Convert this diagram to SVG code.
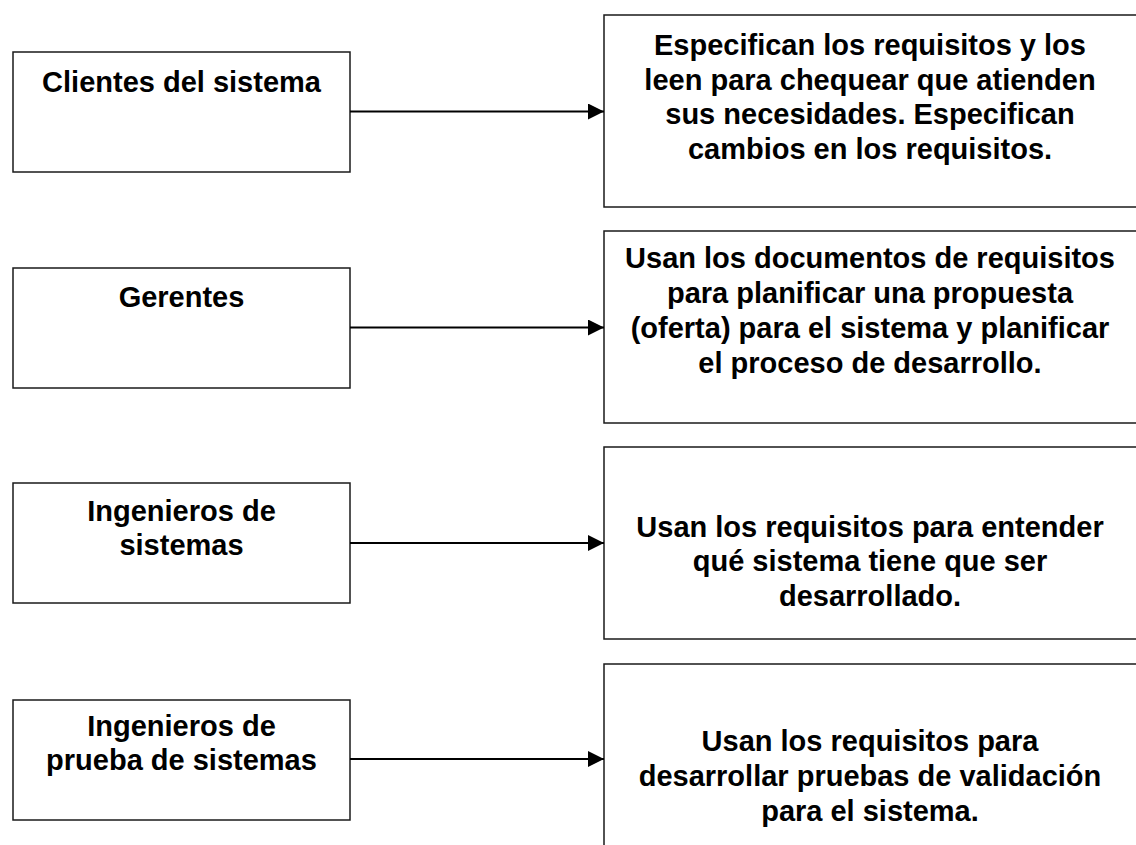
<svg xmlns="http://www.w3.org/2000/svg" width="1136" height="845" viewBox="0 0 1136 845">
<defs>
<marker id="ah" markerWidth="16" markerHeight="16" refX="16" refY="8" orient="auto" markerUnits="userSpaceOnUse">
<path d="M0,0 L16,8 L0,16 Z" fill="#000"/>
</marker>
<style>
.box{fill:#fff;stroke:#1a1a1a;stroke-width:1.5}
.t{font-family:"Liberation Sans",Arial,sans-serif;font-weight:bold;font-size:29px;fill:#000;text-anchor:middle}
.c{stroke:#000;stroke-width:2.2;fill:none}
</style>
</defs>
<rect width="1136" height="845" fill="#fff"/>
<g id="n1">
<rect class="box" x="13" y="52" width="337" height="120"/>
<text class="t" x="181.5" y="92">Clientes del sistema</text>
</g>
<g id="n2">
<rect class="box" x="13" y="268" width="337" height="120"/>
<text class="t" x="181.5" y="307">Gerentes</text>
</g>
<g id="n3">
<rect class="box" x="13" y="483" width="337" height="120"/>
<text class="t" x="181.5" y="521">Ingenieros de</text>
<text class="t" x="181.5" y="555">sistemas</text>
</g>
<g id="n4">
<rect class="box" x="13" y="700" width="337" height="120"/>
<text class="t" x="181.5" y="736">Ingenieros de</text>
<text class="t" x="181.5" y="770">prueba de sistemas</text>
</g>
<g id="r1">
<rect class="box" x="604" y="15" width="545" height="192"/>
<text class="t" x="870" y="55">Especifican los requisitos y los</text>
<text class="t" x="870" y="90">leen para chequear que atienden</text>
<text class="t" x="870" y="124">sus necesidades. Especifican</text>
<text class="t" x="870" y="159">cambios en los requisitos.</text>
</g>
<g id="r2">
<rect class="box" x="604" y="231" width="545" height="192"/>
<text class="t" x="870" y="268">Usan los documentos de requisitos</text>
<text class="t" x="870" y="303">para planificar una propuesta</text>
<text class="t" x="870" y="338">(oferta) para el sistema y planificar</text>
<text class="t" x="870" y="373">el proceso de desarrollo.</text>
</g>
<g id="r3">
<rect class="box" x="604" y="447" width="545" height="192"/>
<text class="t" x="870" y="537">Usan los requisitos para entender</text>
<text class="t" x="870" y="571">qué sistema tiene que ser</text>
<text class="t" x="870" y="606">desarrollado.</text>
</g>
<g id="r4">
<rect class="box" x="604" y="664" width="545" height="200"/>
<text class="t" x="870" y="751">Usan los requisitos para</text>
<text class="t" x="870" y="786">desarrollar pruebas de validación</text>
<text class="t" x="870" y="821">para el sistema.</text>
</g>
<g id="connectors">
<line class="c" x1="350" y1="111.5" x2="604" y2="111.5" marker-end="url(#ah)"/>
<line class="c" x1="350" y1="327.5" x2="604" y2="327.5" marker-end="url(#ah)"/>
<line class="c" x1="350" y1="543" x2="604" y2="543" marker-end="url(#ah)"/>
<line class="c" x1="350" y1="759" x2="604" y2="759" marker-end="url(#ah)"/>
</g>
</svg>
